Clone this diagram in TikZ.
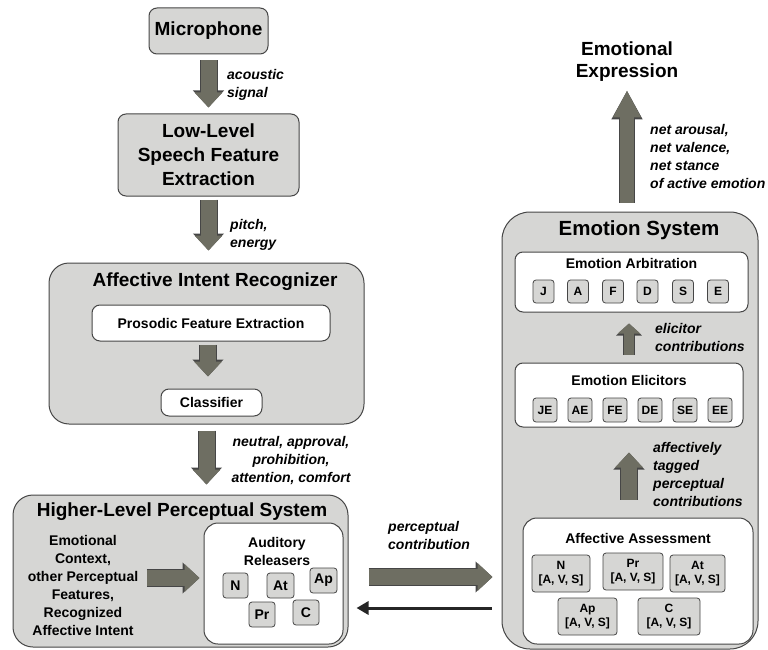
\documentclass[tikz,border=0pt]{standalone}
\usepackage{fontspec}
\setmainfont{Liberation Sans}
\usepackage{tikz}
\definecolor{boxgray}{RGB}{214,214,212}
\definecolor{edgegray}{RGB}{70,70,70}
\definecolor{arrowgray}{RGB}{110,110,98}

\begin{document}
\begin{tikzpicture}[x=1pt, y=-1pt,
    box/.style={draw=edgegray, fill=boxgray, line width=1pt, rounded corners=8pt},
    whitebox/.style={draw=edgegray, fill=white, line width=1pt, rounded corners=8pt},
    tag/.style={draw=edgegray, fill=boxgray, line width=0.8pt, rounded corners=3pt, inner sep=0pt, font=\bfseries\fontsize{12}{15}\selectfont, align=center},
    bigtext/.style={font=\bfseries\fontsize{19}{24}\selectfont, align=center},
    smalltext/.style={font=\bfseries\fontsize{14}{18}\selectfont, align=center},
    flowtext/.style={font=\bfseries\itshape\fontsize{14}{18}\selectfont, align=left, anchor=west, inner sep=0pt},
    bigarrow/.style={draw=arrowgray, line width=16pt, -{Triangle[width=27pt, length=15pt]},
      preaction={draw=edgegray, line width=18pt, -{Triangle[width=30pt, length=17pt]}}},
    tallarrow/.style={draw=arrowgray, line width=14pt, -{Triangle[width=26pt, length=27pt]},
      preaction={draw=edgegray, line width=16pt, -{Triangle[width=29pt, length=29pt]}}},
    smallarrow/.style={draw=arrowgray, line width=10pt, -{Triangle[width=22pt, length=10pt]},
      preaction={draw=edgegray, line width=12pt, -{Triangle[width=25pt, length=12pt]}}},
    thinarrow/.style={draw=black!85, line width=3pt, -{Triangle[width=13pt, length=12pt]}}]
    \usetikzlibrary{arrows.meta}
    \useasboundingbox (0,0) rectangle (768,650);

    \node[box, minimum width=119pt, minimum height=46pt, bigtext] at (208.5,31) (mic) {Microphone};
    \node[box, minimum width=181pt, minimum height=82pt, bigtext] at (208.5,155) (low) {Low-Level\\Speech Feature\\Extraction};
    \draw[bigarrow, shorten <=6pt, shorten >=6pt] (mic.south) -- (mic.south |- low.north);
    \node[flowtext] at (227,85) (acoustic) {acoustic\\signal};

    \node[box, rounded corners=20pt, minimum width=315pt, minimum height=161pt] at (206.5,343.5) (air) {};
    \node[bigtext] at (215,282) (airtitle) {Affective Intent Recognizer};
    \node[whitebox, minimum width=238pt, minimum height=36pt, smalltext] at (211,323) (pfe) {Prosodic Feature Extraction};
    \node[whitebox, minimum width=101pt, minimum height=27pt, smalltext] at (211.5,402.5) (cls) {Classifier};
    \draw[bigarrow, shorten <=3pt, shorten >=12pt] (low.south) -- (low.south |- air.north);
    \node[flowtext] at (230,235) (pitch) {pitch,\\energy};
    \draw[bigarrow, shorten <=3pt, shorten >=12pt] ([xshift=-3pt]pfe.south) -- ([xshift=-3pt]pfe.south |- cls.north);

    \node[box, rounded corners=20pt, minimum width=335pt, minimum height=152pt] at (180.5,571) (hl) {};
    \node[bigtext] at (182,512) (hltitle) {Higher-Level Perceptual System};
    \draw[bigarrow, shorten <=6pt, shorten >=10pt] (air.south) -- (air.south |- hl.north);
    \node[flowtext, align=center, anchor=center] at (291,461) (intent) {neutral, approval,\\prohibition,\\attention, comfort};
    \node[smalltext] at (83,585) (ctx) {Emotional\\Context,\\other Perceptual\\Features,\\Recognized\\Affective Intent};
    \node[whitebox, rounded corners=14pt, minimum width=139pt, minimum height=121pt] at (273.5,583.5) (ar) {};
    \node[smalltext] at (277,551) (artitle) {Auditory\\Releasers};
    \draw[bigarrow, shorten <=5pt, shorten >=4pt] (ctx.east |- 0,578) -- (ar.west |- 0,578);
    \node[tag, minimum width=25pt, minimum height=25pt, font=\bfseries\fontsize{14}{16}\selectfont] at (235.5,585.5) (arN) {N};
    \node[tag, minimum width=27pt, minimum height=25pt, font=\bfseries\fontsize{14}{16}\selectfont] at (280.5,585.5) (arAt) {At};
    \node[tag, minimum width=27pt, minimum height=25pt, font=\bfseries\fontsize{14}{16}\selectfont] at (323.5,580.5) (arAp) {Ap};
    \node[tag, minimum width=26pt, minimum height=25pt, font=\bfseries\fontsize{14}{16}\selectfont] at (262,614.5) (arPr) {Pr};
    \node[tag, minimum width=26pt, minimum height=25pt, font=\bfseries\fontsize{14}{16}\selectfont] at (306,612.5) (arC) {C};

    \node[box, rounded corners=28pt, minimum width=256pt, minimum height=437pt] at (630,430.5) (es) {};
    \node[bigtext, font=\bfseries\fontsize{20.5}{24}\selectfont] at (639,230) (estitle) {Emotion System};
    \node[bigtext, font=\bfseries\fontsize{19}{22}\selectfont] at (627,62) (expr) {Emotional\\Expression};
    \draw[tallarrow, shorten <=9pt, shorten >=5pt] (expr.south |- es.north) -- (expr.south);
    \node[flowtext, align=left] at (650,156.5) (net) {net arousal,\\net valence,\\net stance\\of active emotion};

    \node[whitebox, minimum width=233pt, minimum height=60pt] at (631.5,282) (arb) {};
    \node[smalltext] at (631.5,263) (arbtitle) {Emotion Arbitration};
    \node[tag, minimum width=21pt, minimum height=23pt] at (543.5,291.5) (arbJ) {J};
    \node[tag, minimum width=21pt, minimum height=23pt] at (578,291.5) (arbA) {A};
    \node[tag, minimum width=21pt, minimum height=23pt] at (613,291.5) (arbF) {F};
    \node[tag, minimum width=21pt, minimum height=23pt] at (647.5,291.5) (arbD) {D};
    \node[tag, minimum width=21pt, minimum height=23pt] at (683,291.5) (arbS) {S};
    \node[tag, minimum width=21pt, minimum height=23pt] at (718,291.5) (arbE) {E};

    \node[whitebox, minimum width=228pt, minimum height=64pt] at (629,395) (ee) {};
    \node[smalltext] at (629,380) (eetitle) {Emotion Elicitors};
    \node[tag, minimum width=24pt, minimum height=24pt] at (545,410) (eeJE) {JE};
    \node[tag, minimum width=24pt, minimum height=24pt] at (580,410) (eeAE) {AE};
    \node[tag, minimum width=24pt, minimum height=24pt] at (615,410) (eeFE) {FE};
    \node[tag, minimum width=24pt, minimum height=24pt] at (650,410) (eeDE) {DE};
    \node[tag, minimum width=24pt, minimum height=24pt] at (685,410) (eeSE) {SE};
    \node[tag, minimum width=24pt, minimum height=24pt] at (720,410) (eeEE) {EE};
    \draw[smallarrow, shorten <=8pt, shorten >=11pt] (ee.north) -- (ee.north |- arb.south);
    \node[flowtext] at (655,337.5) (elicitor) {elicitor\\contributions};

    \node[whitebox, rounded corners=14pt, minimum width=230pt, minimum height=126pt] at (638,581) (aa) {};
    \node[smalltext] at (638,538) (aatitle) {Affective Assessment};
    \node[tag, minimum width=58pt, minimum height=37pt, font=\bfseries\fontsize{12}{14}\selectfont] at (561,573.5) (aaN) {N\\{[A, V, S]}};
    \node[tag, minimum width=60pt, minimum height=37pt, font=\bfseries\fontsize{12}{14}\selectfont] at (633,571.5) (aaPr) {Pr\\{[A, V, S]}};
    \node[tag, minimum width=55pt, minimum height=37pt, font=\bfseries\fontsize{12}{14}\selectfont] at (697.5,573.5) (aaAt) {At\\{[A, V, S]}};
    \node[tag, minimum width=59pt, minimum height=37pt, font=\bfseries\fontsize{12}{14}\selectfont] at (587.5,616.5) (aaAp) {Ap\\{[A, V, S]}};
    \node[tag, minimum width=62pt, minimum height=37pt, font=\bfseries\fontsize{12}{14}\selectfont] at (669,616.5) (aaC) {C\\{[A, V, S]}};
    \draw[bigarrow, shorten <=18pt, shorten >=25pt] (ee.south |- aa.north) -- (ee.south);
    \node[flowtext] at (653,474) (tagged) {affectively\\tagged\\perceptual\\contributions};

    \draw[bigarrow, shorten <=20pt, shorten >=9pt] (hl.east |- 0,577) -- (es.west |- 0,577);
    \node[flowtext] at (388,535) (perc) {perceptual\\contribution};
    \draw[thinarrow, shorten <=10pt, shorten >=8pt] (es.west |- 0,608) -- (hl.east |- 0,608);
\end{tikzpicture}
\end{document}
